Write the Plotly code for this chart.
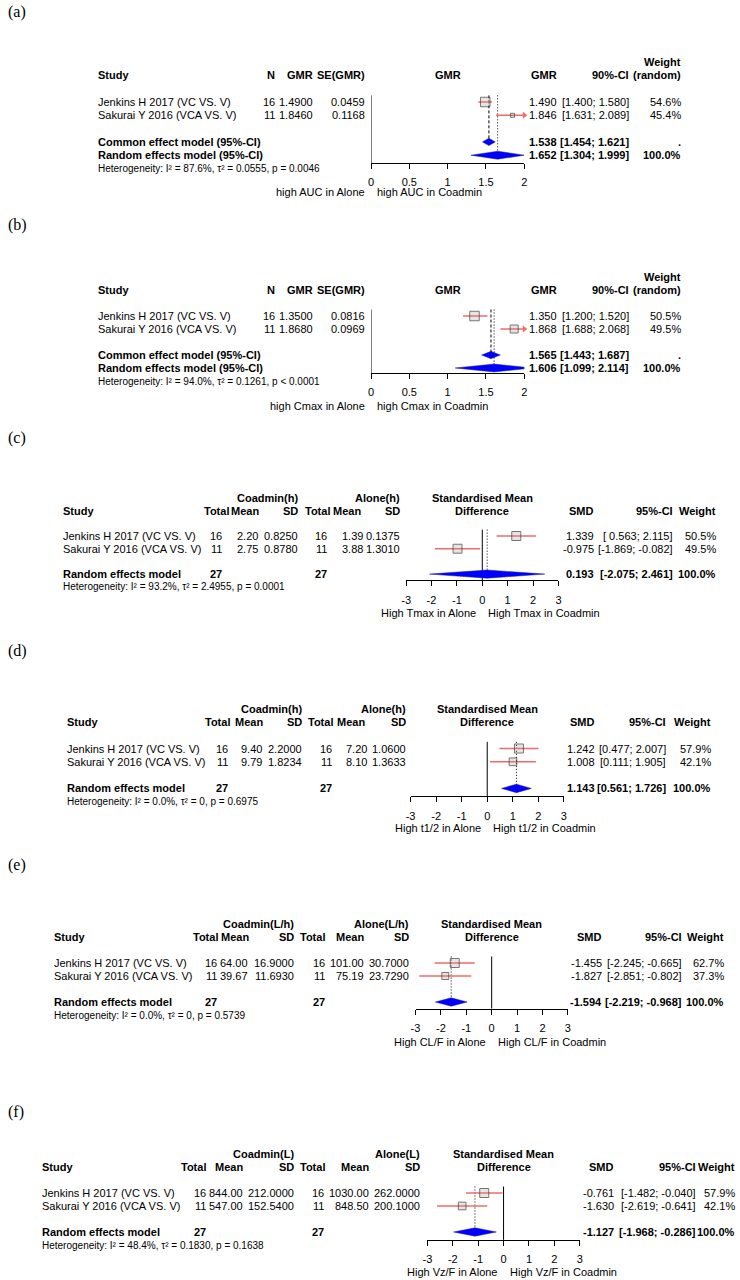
import math
import plotly.graph_objects as go

W, H = 740, 1280
FONT = "Liberation Sans, Arial, sans-serif"
RED = "#f26b6b"
SQ = "rgba(170,150,150,0.35)"

studies = ["Jenkins H 2017 (VC VS. V)", "Sakurai Y 2016 (VCA VS. V)"]

# %% (a) AUC - GMR
a_n = [16, 11]
a_gmr = [1.4900, 1.8460]
a_se = [0.0459, 0.1168]
a_est = [1.490, 1.846]
a_lo = [1.400, 1.631]
a_hi = [1.580, 2.089]
a_w = [54.6, 45.4]
a_common = [1.538, 1.454, 1.621]
a_random = [1.652, 1.304, 1.999]
a_het = ["87.6%", "0.0555", "= 0.0046"]
a_lab = ["high AUC in Alone", "high AUC in Coadmin"]

# %% (b) Cmax - GMR
b_n = [16, 11]
b_gmr = [1.3500, 1.8680]
b_se = [0.0816, 0.0969]
b_est = [1.350, 1.868]
b_lo = [1.200, 1.688]
b_hi = [1.520, 2.068]
b_w = [50.5, 49.5]
b_common = [1.565, 1.443, 1.687]
b_random = [1.606, 1.099, 2.114]
b_het = ["94.0%", "0.1261", "< 0.0001"]
b_lab = ["high Cmax in Alone", "high Cmax in Coadmin"]

# %% (c) Tmax - SMD
c_grp = ["Coadmin(h)", "Alone(h)"]
c_n1 = [16, 11]
c_m1 = [2.20, 2.75]
c_sd1 = [0.8250, 0.8780]
c_n2 = [16, 11]
c_m2 = [1.39, 3.88]
c_sd2 = [0.1375, 1.3010]
c_smd = [1.339, -0.975]
c_lo = [0.563, -1.869]
c_hi = [2.115, -0.082]
c_w = [50.5, 49.5]
c_random = [0.193, -2.075, 2.461]
c_het = ["93.2%", "2.4955", "= 0.0001"]
c_lab = ["High Tmax in Alone", "High Tmax in Coadmin"]

# %% (d) t1/2 - SMD
d_grp = ["Coadmin(h)", "Alone(h)"]
d_n1 = [16, 11]
d_m1 = [9.40, 9.79]
d_sd1 = [2.2000, 1.8234]
d_n2 = [16, 11]
d_m2 = [7.20, 8.10]
d_sd2 = [1.0600, 1.3633]
d_smd = [1.242, 1.008]
d_lo = [0.477, 0.111]
d_hi = [2.007, 1.905]
d_w = [57.9, 42.1]
d_random = [1.143, 0.561, 1.726]
d_het = ["0.0%", "0", "= 0.6975"]
d_lab = ["High t1/2 in Alone", "High t1/2 in Coadmin"]

# %% (e) CL/F - SMD
e_grp = ["Coadmin(L/h)", "Alone(L/h)"]
e_n1 = [16, 11]
e_m1 = [64.00, 39.67]
e_sd1 = [16.9000, 11.6930]
e_n2 = [16, 11]
e_m2 = [101.00, 75.19]
e_sd2 = [30.7000, 23.7290]
e_smd = [-1.455, -1.827]
e_lo = [-2.245, -2.851]
e_hi = [-0.665, -0.802]
e_w = [62.7, 37.3]
e_random = [-1.594, -2.219, -0.968]
e_het = ["0.0%", "0", "= 0.5739"]
e_lab = ["High CL/F in Alone", "High CL/F in Coadmin"]

# %% (f) Vz/F - SMD
f_grp = ["Coadmin(L)", "Alone(L)"]
f_n1 = [16, 11]
f_m1 = [844.00, 547.00]
f_sd1 = [212.0000, 152.5400]
f_n2 = [16, 11]
f_m2 = [1030.00, 848.50]
f_sd2 = [262.0000, 200.1000]
f_smd = [-0.761, -1.630]
f_lo = [-1.482, -2.619]
f_hi = [-0.040, -0.641]
f_w = [57.9, 42.1]
f_random = [-1.127, -1.968, -0.286]
f_het = ["48.4%", "0.1830", "= 0.1638"]
f_lab = ["High Vz/F in Alone", "High Vz/F in Coadmin"]

gmr_ticks = [0, 0.5, 1, 1.5, 2]
smd_ticks = [-3, -2, -1, 0, 1, 2, 3]

# %% page positions (pixels)
pos_a = dict(tag=12, r1=102, sp=13.3, axis=4.6, lab=6.8, px=(370, 525),
             study=92.5, n=274, gmr=312, se=365, est=559, ci=632, w=684)
pos_b = dict(tag=225, r1=316, sp=13.0, axis=4.4, lab=6.9, px=(370, 525),
             study=92.5, n=274, gmr=312, se=365, est=559, ci=632, w=684)
pos_c = dict(tag=438, r1=536, sp=12.7, axis=3.5, lab=6.1, px=(405.5, 559.5), study=58,
             head=[227, 258, 297, 330, 361, 400], vals=[220, 257, 297, 327, 363, 400],
             smd=596, ci=676, w=720)
pos_d = dict(tag=651, r1=748.5, sp=13.3, axis=3.6, lab=6.0, px=(410, 565), study=62,
             head=[228, 262, 301, 333, 365, 406], vals=[226, 261, 301, 332, 367, 406],
             smd=597, ci=669, w=715)
pos_e = dict(tag=865, r1=963, sp=13.0, axis=3.5, lab=6.1, px=(415, 569), study=49,
             head=[216, 248, 293, 325, 364, 409], vals=[215, 247, 293, 325, 364, 409],
             smd=605, ci=685, w=728)
pos_f = dict(tag=1112, r1=1193, sp=13.0, axis=3.6, lab=6.1, px=(427, 581), study=36,
             head=[204, 242, 293, 325, 369, 421], vals=[204, 242, 293, 324, 369, 421],
             smd=617, ci=700, w=739)

fig = go.Figure()
ann = []
layout = {}


def names(k):
    return ("x", "y") if k == 1 else (f"x{k}", f"y{k}")


def put(s, x, y, k, anchor="right", bold=False, size=11):
    if bold:
        s = f"<b>{s}</b>"
    ann.append(dict(text=s, x=x / W, xref="paper", y=y, yref=names(k)[1],
                    xanchor=anchor, yanchor="middle", showarrow=False, borderpad=0,
                    font=dict(size=size, family=FONT, color="black")))


def het_text(h):
    return f"Heterogeneity: I² = {h[0]}, τ² = {h[1]}, p {h[2]}"


def ci_text(lo, hi, i):
    pad = " " if lo[i] >= 0 and min(lo) < 0 else ""
    return f"[{pad}{lo[i]:.3f}; {hi[i]:.3f}]"


def axes(k, pos, xr, ticks, tag):
    ymax = pos["lab"] + 0.5
    top = pos["r1"] - 4.5 * pos["sp"]
    bot = min(H, pos["r1"] + ymax * pos["sp"])
    ymax = (bot - pos["r1"]) / pos["sp"]
    axis_px = pos["r1"] + pos["axis"] * pos["sp"]
    xa, ya = names(k)
    sfx = "" if k == 1 else str(k)
    layout["xaxis" + sfx] = dict(
        domain=[pos["px"][0] / W, pos["px"][1] / W], range=xr,
        anchor="free", position=1 - axis_px / H,
        tickvals=ticks, ticktext=[f"{t:g}" for t in ticks],
        showline=True, linecolor="black", linewidth=1, ticks="outside",
        ticklen=5, tickcolor="black", tickwidth=1, showgrid=False,
        zeroline=False, ticklabelstandoff=4, fixedrange=True,
        tickfont=dict(size=11, family=FONT, color="black"))
    layout["yaxis" + sfx] = dict(domain=[1 - bot / H, 1 - top / H], range=[ymax, -4.5],
                                 visible=False, anchor=xa, fixedrange=True)
    ann.append(dict(text=tag, x=1 / W, xref="paper", y=1 - pos["tag"] / H, yref="paper",
                    xanchor="left", yanchor="middle", showarrow=False,
                    font=dict(size=16, family="Liberation Serif, Times New Roman", color="black")))


def marks(k, pos, xr, est, lo, hi, sizes, models, lab):
    xa, ya = names(k)
    common = dict(xaxis=xa, yaxis=ya, cliponaxis=False, hoverinfo="skip")
    top = -0.5
    fig.add_trace(go.Scatter(x=[0, 0], y=[top, pos["axis"]], mode="lines",
                             line=dict(color="black", width=1), **common))
    for row, m, dash, dh in models:
        fig.add_trace(go.Scatter(x=[m[0], m[0]], y=[top, row], mode="lines",
                                 line=dict(color="black", width=1, dash=dash), **common))
    cx, cy = [], []
    for i in range(len(est)):
        cx += [lo[i], min(hi[i], xr[1]), None]
        cy += [i, i, None]
    fig.add_trace(go.Scatter(x=cx, y=cy, mode="lines", line=dict(color=RED, width=1.5), **common))
    over = [i for i in range(len(est)) if hi[i] > xr[1]]
    if over:
        fig.add_trace(go.Scatter(x=[xr[1]] * len(over), y=over, mode="markers",
                                 marker=dict(symbol="triangle-right", size=6, color=RED), **common))
    fig.add_trace(go.Scatter(x=est, y=list(range(len(est))), mode="markers",
                             marker=dict(symbol="square", size=sizes, color=SQ,
                                         line=dict(color="#3c3c3c", width=1)), **common))
    for row, m, dash, dh in models:
        fig.add_trace(go.Scatter(x=[m[1], m[0], m[2], m[0], m[1]],
                                 y=[row, row - dh, row, row + dh, row], mode="lines",
                                 fill="toself", fillcolor="#0000ff",
                                 line=dict(color="#1a1a9a", width=0.5), **common))
    for s, anchor, shift in [(lab[0], "right", -5), (lab[1], "left", 5)]:
        ann.append(dict(text=s, x=0, xref=xa, y=pos["lab"], yref=ya, xanchor=anchor,
                        xshift=shift, yanchor="middle", showarrow=False, borderpad=0,
                        font=dict(size=11, family=FONT, color="black")))


def gmr_panel(k, tag, pos, n, gmr, se, est, lo, hi, w, cm, rm, het, lab):
    axes(k, pos, [0, 2], gmr_ticks, tag)
    wc = [1 / s ** 2 for s in se]
    sizes = [max(4, 9.5 * math.sqrt(v / max(wc))) for v in wc]
    marks(k, pos, [0, 2], est, lo, hi, sizes,
          [(3, cm, "3px,2px", 0.28), (4, rm, "1px,2px", 0.3)], lab)
    put("Weight", pos["w"], -3, k, bold=True)
    put("Study", pos["study"], -2, k, anchor="left", bold=True)
    put("N", pos["n"], -2, k, bold=True)
    put("GMR", pos["gmr"], -2, k, bold=True)
    put("SE(GMR)", pos["se"], -2, k, bold=True)
    put("GMR", sum(pos["px"]) / 2, -2, k, anchor="center", bold=True)
    put("GMR", pos["est"], -2, k, bold=True)
    put("90%-CI", pos["ci"], -2, k, bold=True)
    put("(random)", pos["w"], -2, k, bold=True)
    for i, s in enumerate(studies):
        put(s, pos["study"], i, k, anchor="left")
        put(str(n[i]), pos["n"], i, k)
        put(f"{gmr[i]:.4f}", pos["gmr"], i, k)
        put(f"{se[i]:.4f}", pos["se"], i, k)
        put(f"{est[i]:.3f}", pos["est"], i, k)
        put(ci_text(lo, hi, i), pos["ci"], i, k)
        put(f"{w[i]:.1f}%", pos["w"], i, k)
    for row, name, m, wt in [(3, "Common effect model (95%-CI)", cm, "."),
                             (4, "Random effects model (95%-CI)", rm, "100.0%")]:
        put(name, pos["study"], row, k, anchor="left", bold=True)
        put(f"{m[0]:.3f}", pos["est"], row, k, bold=True)
        put(f"[{m[1]:.3f}; {m[2]:.3f}]", pos["ci"], row, k, bold=True)
        put(wt, pos["w"], row, k, bold=True)
    put(het_text(het), pos["study"], 5, k, anchor="left", size=10)


def smd_panel(k, tag, pos, grp, n1, m1, sd1, n2, m2, sd2, smd, lo, hi, w, rm, het, lab):
    axes(k, pos, [-3, 3], smd_ticks, tag)
    sizes = [max(4, 9 * math.sqrt(v / max(w))) for v in w]
    marks(k, pos, [-3, 3], smd, lo, hi, sizes, [(3, rm, "1px,2px", 0.32)], lab)
    hd, vl = pos["head"], pos["vals"]
    mid = sum(pos["px"]) / 2
    put(grp[0], hd[2], -3, k, bold=True)
    put(grp[1], hd[5], -3, k, bold=True)
    put("Standardised Mean", mid, -3, k, anchor="center", bold=True)
    put("Study", pos["study"], -2, k, anchor="left", bold=True)
    for x, s in zip(hd, ["Total", "Mean", "SD", "Total", "Mean", "SD"]):
        put(s, x, -2, k, bold=True)
    put("Difference", mid, -2, k, anchor="center", bold=True)
    put("SMD", pos["smd"], -2, k, bold=True)
    put("95%-CI", pos["ci"], -2, k, bold=True)
    put("Weight", pos["w"], -2, k, bold=True)
    for i, s in enumerate(studies):
        put(s, pos["study"], i, k, anchor="left")
        cells = [str(n1[i]), f"{m1[i]:.2f}", f"{sd1[i]:.4f}",
                 str(n2[i]), f"{m2[i]:.2f}", f"{sd2[i]:.4f}"]
        for x, c in zip(vl, cells):
            put(c, x, i, k)
        put(f"{smd[i]:.3f}", pos["smd"], i, k)
        put(ci_text(lo, hi, i), pos["ci"], i, k)
        put(f"{w[i]:.1f}%", pos["w"], i, k)
    put("Random effects model", pos["study"], 3, k, anchor="left", bold=True)
    put(str(sum(n1)), vl[0], 3, k, bold=True)
    put(str(sum(n2)), vl[3], 3, k, bold=True)
    put(f"{rm[0]:.3f}", pos["smd"], 3, k, bold=True)
    put(f"[{rm[1]:.3f}; {rm[2]:.3f}]", pos["ci"], 3, k, bold=True)
    put("100.0%", pos["w"], 3, k, bold=True)
    put(het_text(het), pos["study"], 4, k, anchor="left", size=10)


gmr_panel(1, "(a)", pos_a, a_n, a_gmr, a_se, a_est, a_lo, a_hi, a_w, a_common, a_random, a_het, a_lab)
gmr_panel(2, "(b)", pos_b, b_n, b_gmr, b_se, b_est, b_lo, b_hi, b_w, b_common, b_random, b_het, b_lab)
smd_panel(3, "(c)", pos_c, c_grp, c_n1, c_m1, c_sd1, c_n2, c_m2, c_sd2, c_smd, c_lo, c_hi, c_w, c_random, c_het, c_lab)
smd_panel(4, "(d)", pos_d, d_grp, d_n1, d_m1, d_sd1, d_n2, d_m2, d_sd2, d_smd, d_lo, d_hi, d_w, d_random, d_het, d_lab)
smd_panel(5, "(e)", pos_e, e_grp, e_n1, e_m1, e_sd1, e_n2, e_m2, e_sd2, e_smd, e_lo, e_hi, e_w, e_random, e_het, e_lab)
smd_panel(6, "(f)", pos_f, f_grp, f_n1, f_m1, f_sd1, f_n2, f_m2, f_sd2, f_smd, f_lo, f_hi, f_w, f_random, f_het, f_lab)

fig.update_layout(
    width=W, height=H,
    margin=dict(l=0, r=0, t=0, b=0),
    plot_bgcolor="white", paper_bgcolor="white",
    showlegend=False,
    annotations=ann,
    **layout,
)

# the page body has a default 8px margin; drop it so the figure fills the window
fig.write_html("out.html", config={"displayModeBar": False},
               post_script="document.body.style.margin = '0';")
